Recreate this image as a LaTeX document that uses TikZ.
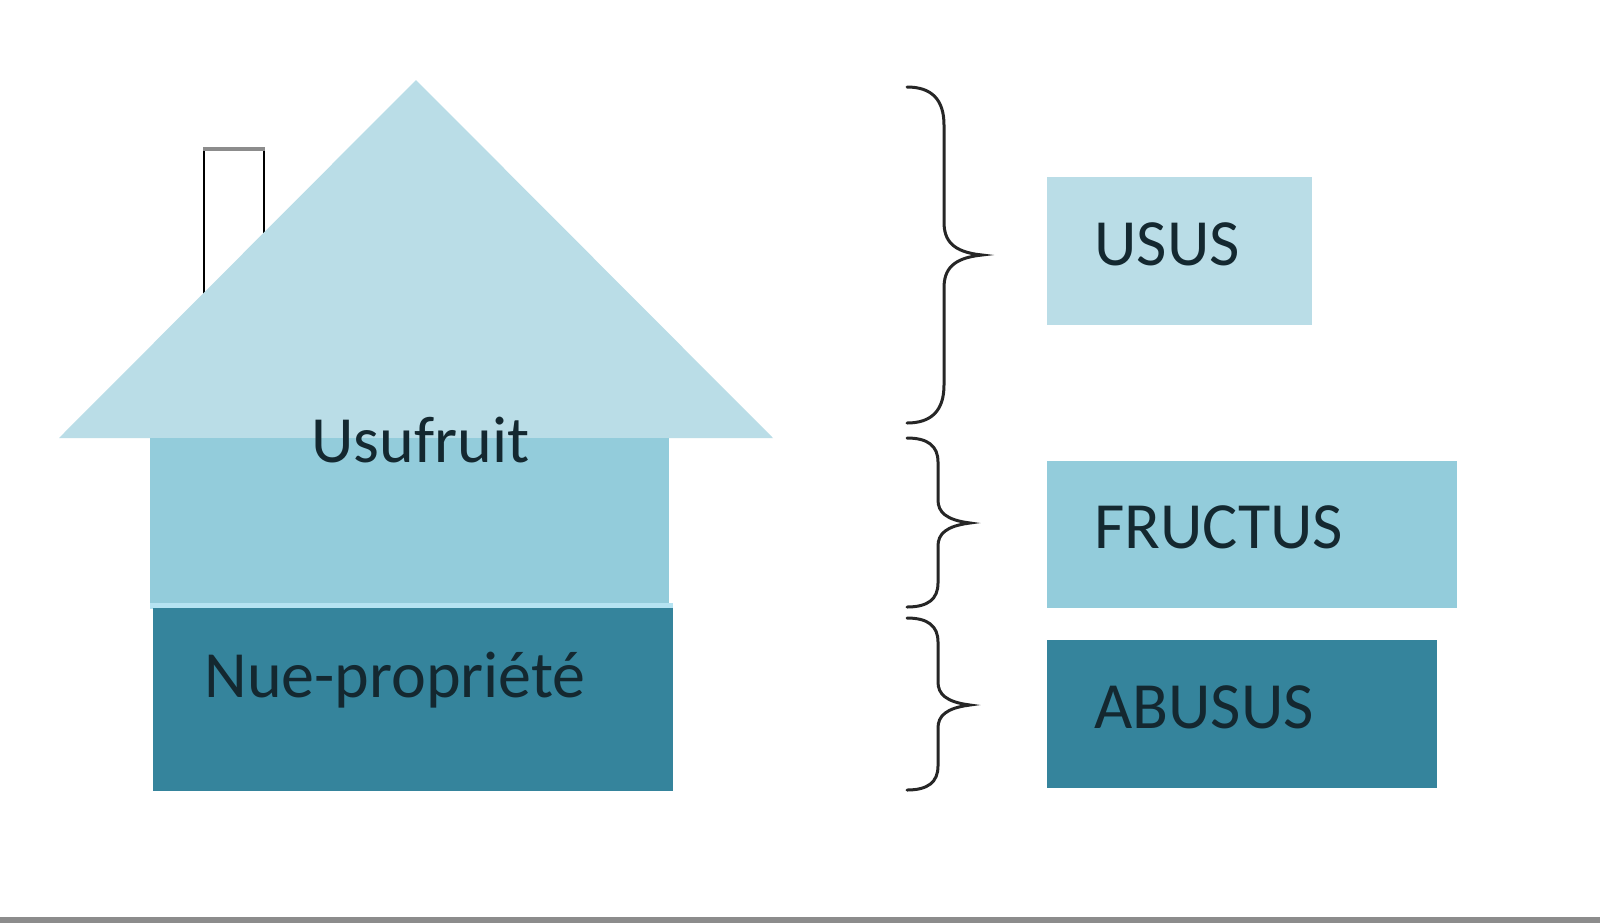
\documentclass[tikz,border=0pt]{standalone}
\usepackage{fontspec}
\setmainfont{Carlito}
\definecolor{roofc}{HTML}{BADDE7}
\definecolor{wallc}{HTML}{93CCDB}
\definecolor{darkc}{HTML}{35849C}
\definecolor{bandc}{HTML}{B5E3F2}
\definecolor{txtc}{HTML}{142830}
\begin{document}
\begin{tikzpicture}[x=0.5pt,y=-0.5pt,
  lbl/.style={anchor=base west,inner sep=0pt,text=txtc,font=\fontsize{33}{36}\selectfont},
  brace/.style={draw=black!85,line width=1.5pt,line cap=round}]
\useasboundingbox (0,0) rectangle (1600,923);
\fill[white] (0,0) rectangle (1600,923);
% chimney
\draw[black,line width=1pt] (204,150) -- (204,300);
\draw[black,line width=1pt] (264,150) -- (264,250);
\draw[black!45,line width=2.2pt] (203,149) -- (265,149);
% roof
\fill[roofc] (416,80) -- (773,438) -- (59,438) -- cycle;
% walls
\fill[wallc] (150,438) rectangle (669,604);
\fill[bandc] (150,603) rectangle (673,609);
\fill[darkc] (153,608) rectangle (673,791);
\node[lbl] (usu) at (311,462) {Usufruit};
\node[lbl] (nue) at (204,697) {Nue-propriété};
% right boxes
\fill[roofc] (1047,177) rectangle (1312,325);
\fill[wallc] (1047,461) rectangle (1457,608);
\fill[darkc] (1047,640) rectangle (1437,788);
\node[lbl] (usus) at (1094,265) {USUS};
\node[lbl] (fru) at (1094,548) {FRUCTUS};
\node[lbl] (abu) at (1094,728) {ABUSUS};
% braces
\coordinate (b1t) at (907,87); \coordinate (b1m) at (982,255); \coordinate (b1b) at (907,423);
\draw[brace] (b1t) .. controls (932,87) and (944,100) .. (944,125) -- (944,222)
  .. controls (944,240) and (952,252) .. (b1m)
  .. controls (952,258) and (944,270) .. (944,288) -- (944,385)
  .. controls (944,410) and (932,423) .. (b1b);
\coordinate (b2t) at (907,438); \coordinate (b2m) at (970,523); \coordinate (b2b) at (907,607);
\draw[brace] (b2t) .. controls (928,438) and (938,446) .. (938,462) -- (938,500)
  .. controls (938,512) and (946,520) .. (b2m)
  .. controls (946,526) and (938,534) .. (938,546) -- (938,583)
  .. controls (938,599) and (928,607) .. (b2b);
\coordinate (b3t) at (907,618); \coordinate (b3m) at (970,705); \coordinate (b3b) at (907,790);
\draw[brace] (b3t) .. controls (928,618) and (938,626) .. (938,642) -- (938,682)
  .. controls (938,694) and (946,702) .. (b3m)
  .. controls (946,708) and (938,716) .. (938,728) -- (938,766)
  .. controls (938,782) and (928,790) .. (b3b);
% bottom rule
\fill[black!45] (0,917) rectangle (1600,923);
\end{tikzpicture}
\end{document}
